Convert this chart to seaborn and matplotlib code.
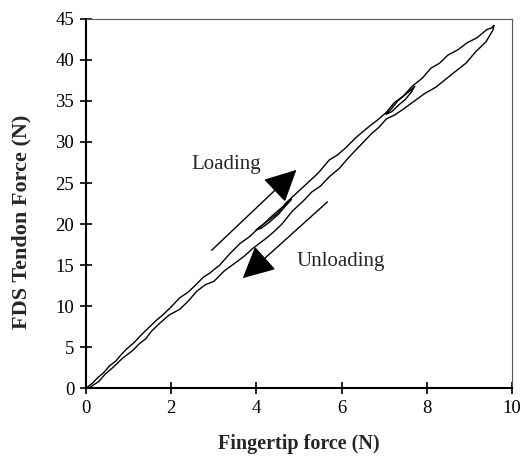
import matplotlib
matplotlib.use("Agg")
import matplotlib.pyplot as plt
import seaborn as sns
import pandas as pd

# Loading curve (upper branch)
load_x = [0.00, 0.08, 0.15, 0.28, 0.40, 0.55, 0.70, 0.83, 0.96, 1.12, 1.30, 1.48, 1.66, 1.82,
          2.00, 2.20, 2.40, 2.60, 2.75, 2.90, 3.14, 3.38, 3.61, 3.85, 4.07, 4.30, 4.50, 4.70,
          4.95, 5.20, 5.45, 5.71, 5.90, 6.08, 6.35, 6.65, 6.85, 7.05, 7.24, 7.45, 7.66, 7.90,
          8.10, 8.30, 8.50, 8.72, 8.95, 9.18, 9.41, 9.52, 9.58]
load_y = [0.0, 0.3, 0.6, 1.3, 1.8, 2.7, 3.3, 4.1, 4.8, 5.5, 6.5, 7.4, 8.3, 9.0,
          9.9, 11.0, 11.7, 12.7, 13.5, 14.0, 15.0, 16.4, 17.6, 18.5, 19.6, 20.5, 21.3, 22.6,
          23.8, 25.0, 26.2, 27.8, 28.4, 29.2, 30.6, 31.9, 32.7, 33.6, 34.8, 35.6, 36.8, 37.8,
          39.0, 39.6, 40.6, 41.2, 42.1, 42.7, 43.7, 43.9, 44.2]

# Unloading curve (lower branch)
unload_x = [9.58, 9.55, 9.47, 9.39, 9.15, 8.92, 8.60, 8.22, 7.95, 7.66, 7.45, 7.25, 7.05,
            6.88, 6.70, 6.50, 6.33, 6.15, 5.95, 5.72, 5.50, 5.30, 5.10, 4.85, 4.60, 4.42,
            4.24, 3.91, 3.72, 3.54, 3.25, 3.00, 2.80, 2.60, 2.40, 2.20, 1.95, 1.73, 1.55,
            1.40, 1.25, 1.10, 0.85, 0.63, 0.45, 0.30, 0.18, 0.10, 0.00]
unload_y = [44.2, 43.6, 42.9, 42.2, 41.0, 39.6, 38.3, 36.7, 35.9, 34.8, 34.0, 33.3, 32.8,
            31.8, 31.0, 29.9, 29.0, 28.0, 26.8, 25.8, 24.6, 23.9, 22.8, 21.6, 20.0, 19.1,
            18.3, 17.0, 16.1, 15.4, 14.3, 13.0, 12.6, 11.8, 10.6, 9.6, 8.9, 7.9, 7.0,
            6.0, 5.4, 4.6, 3.6, 2.5, 1.7, 0.8, 0.4, 0.1, 0.0]

# Small inner loops traced between the branches
loop1_x = [7.05, 7.18, 7.32, 7.48, 7.62, 7.72, 7.64, 7.50, 7.34, 7.18, 7.05]
loop1_y = [33.4, 34.1, 35.0, 35.7, 36.3, 36.8, 36.1, 35.2, 34.5, 33.7, 33.4]
loop2_x = [4.00, 4.15, 4.35, 4.55, 4.72, 4.82, 4.70, 4.52, 4.30, 4.12, 4.00]
loop2_y = [19.3, 19.9, 20.9, 21.8, 22.5, 23.0, 22.3, 21.2, 20.2, 19.5, 19.3]

x_ticks = [0, 2, 4, 6, 8, 10]
y_ticks = [0, 5, 10, 15, 20, 25, 30, 35, 40, 45]

sns.set_style("ticks")
plt.rcParams['font.family'] = ['Liberation Serif', 'DejaVu Serif']

fig = plt.figure(figsize=(5.31, 4.62), dpi=100)
ax = fig.add_axes([0.162, 0.16, 0.802, 0.799])

for xs, ys in [(load_x, load_y), (unload_x, unload_y), (loop1_x, loop1_y), (loop2_x, loop2_y)]:
    df = pd.DataFrame({"x": xs, "y": ys})
    sns.lineplot(data=df, x="x", y="y", sort=False, estimator=None, color="black",
                 linewidth=1.0, ax=ax)

ax.set_xlim(0, 10)
ax.set_ylim(0, 45)
ax.set_xticks(x_ticks)
ax.set_yticks(y_ticks)
ax.tick_params(direction="inout", length=9, width=1.2, labelsize=13.5, colors="black", pad=4)

for s in ["left", "bottom"]:
    ax.spines[s].set_linewidth(1.5)
    ax.spines[s].set_color("black")
for s in ["top", "right"]:
    ax.spines[s].set_visible(True)
    ax.spines[s].set_linewidth(0.8)
    ax.spines[s].set_color("#555555")

ax.set_xlabel("Fingertip force (N)", fontsize=14.5, fontweight="bold", labelpad=12)
ax.set_ylabel("FDS Tendon Force (N)", fontsize=16, fontweight="bold")
ax.yaxis.set_label_coords(-0.127, 0.45)

arrow_style = dict(arrowstyle="-|>,head_length=1.0,head_width=0.5", color="black",
                   lw=1.0, mutation_scale=20, shrinkA=0, shrinkB=0)
ax.annotate("", xy=(4.94, 26.6), xytext=(2.95, 16.8), arrowprops=arrow_style)
ax.annotate("", xy=(3.68, 13.4), xytext=(5.67, 22.7), arrowprops=arrow_style)
ax.text(3.3, 27.2, "Loading", fontsize=15, ha="center", va="center")
ax.text(5.97, 15.4, "Unloading", fontsize=15, ha="center", va="center")

fig.savefig("out.png", dpi=100, facecolor="white")
